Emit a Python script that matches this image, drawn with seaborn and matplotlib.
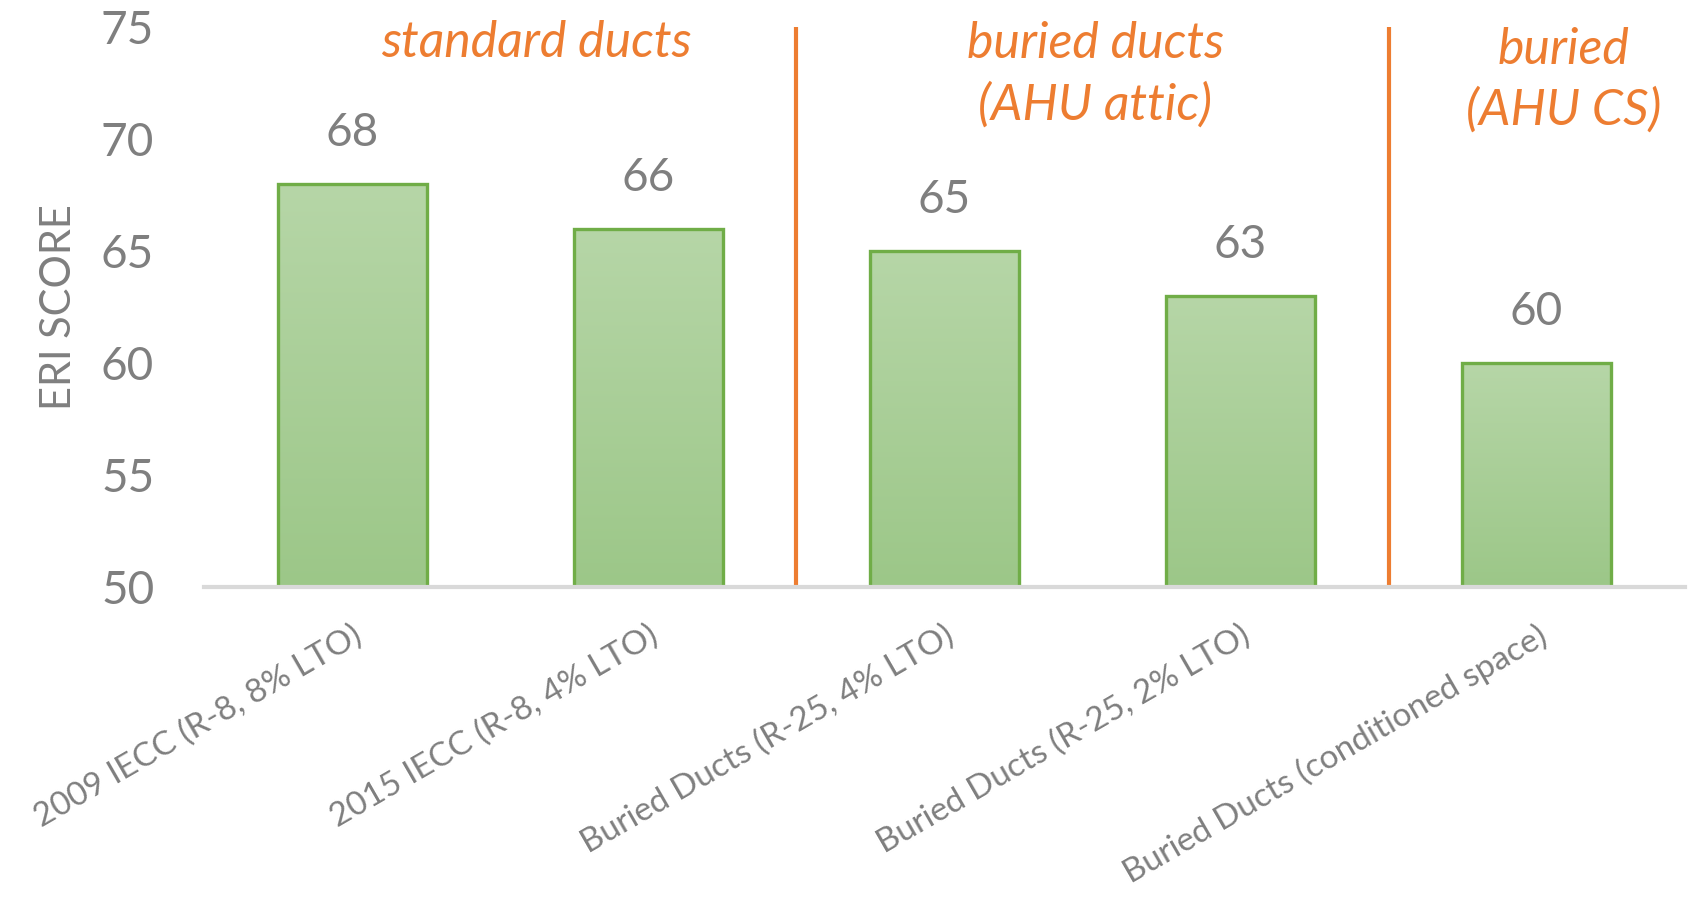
import numpy as np
import matplotlib
matplotlib.use("Agg")
import matplotlib.pyplot as plt
import seaborn as sns

# data
categories = [
    "2009 IECC (R-8, 8% LTO)",
    "2015 IECC (R-8, 4% LTO)",
    "Buried Ducts (R-25, 4% LTO)",
    "Buried Ducts (R-25, 2% LTO)",
    "Buried Ducts (conditioned space)",
]
eri_scores = [68, 66, 65, 63, 60]
group_labels = ["standard ducts", "buried ducts\n(AHU attic)", "buried\n(AHU CS)"]
group_label_x = [0.62, 2.51, 4.09]
group_label_y = [74.3, 72.88, 72.62]
separators = [1.5, 3.5]

GRAY = "#7F7F7F"
ORANGE = "#ED7D31"
GREEN_EDGE = "#70AD47"

sns.set_theme(style="white")
plt.rcParams["font.family"] = ["Lato", "DejaVu Sans"]

fig = plt.figure(figsize=(16.88, 9.14), dpi=100)
ax = fig.add_axes([0.121, 0.358, 0.877, 0.612])

sns.barplot(x=categories, y=eri_scores, width=0.505, color="#A9CF96",
            edgecolor=GREEN_EDGE, linewidth=2.4, ax=ax)

ax.set_ylim(50, 75)
ax.set_xlim(-0.5, len(categories) - 0.5)

# vertical gradient inside each bar
grad = np.linspace(0, 1, 256).reshape(-1, 1)
cmap = matplotlib.colors.LinearSegmentedColormap.from_list("g", ["#9CC788", "#B6D6A7"])
for patch in ax.patches:
    x0 = patch.get_x()
    w = patch.get_width()
    h = patch.get_height()
    im = ax.imshow(grad, extent=[x0, x0 + w, 50, h], origin="lower", cmap=cmap,
                   aspect="auto", zorder=patch.get_zorder() - 0.1)
    im.set_clip_path(patch)
    patch.set_facecolor("none")
    patch.set_zorder(patch.get_zorder() + 0.5)

ax.set_ylim(50, 75)
ax.set_xlim(-0.5, len(categories) - 0.5)

# value labels above bars
for i, v in enumerate(eri_scores):
    ax.annotate(str(v), (i, v), xytext=(0, 30), textcoords="offset pixels",
                ha="center", va="bottom", fontsize=33, color=GRAY)

# group separators and titles
for sx in separators:
    ax.axvline(sx, color=ORANGE, linewidth=3, zorder=1)
for gx, gy, lab in zip(group_label_x, group_label_y, group_labels):
    ax.text(gx, gy, lab, ha="center", va="center", fontsize=36, color=ORANGE,
            style="italic", linespacing=1.38)

for s in ["top", "right", "left"]:
    ax.spines[s].set_visible(False)
ax.spines["bottom"].set_color("#D9D9D9")
ax.spines["bottom"].set_linewidth(3)

ax.set_yticks([50, 55, 60, 65, 70, 75])
ax.tick_params(axis="y", length=0, pad=36, labelsize=33, labelcolor=GRAY)
ax.tick_params(axis="x", length=0, pad=24, labelsize=24, labelcolor=GRAY)
plt.setp(ax.get_xticklabels(), rotation=30, ha="right", rotation_mode="anchor")
ax.set_xlabel("")
ax.set_ylabel("ERI SCORE", fontsize=30, color=GRAY, labelpad=20)
ax.yaxis.set_label_coords(-0.085, 0.5)

fig.savefig("out.png", dpi=100)
